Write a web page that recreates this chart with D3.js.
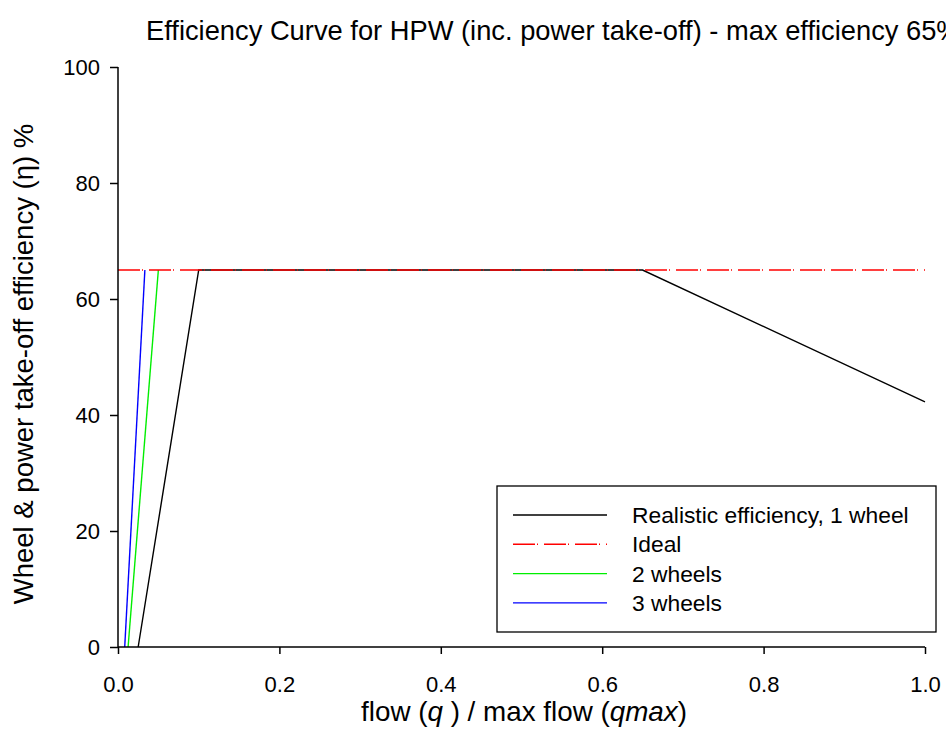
<!DOCTYPE html>
<html>
<head>
<meta charset="utf-8">
<script src="https://cdn.jsdelivr.net/npm/d3@7"></script>
<style>
  html, body { margin: 0; padding: 0; background: #fff; overflow: hidden; }
  svg { display: block; font-family: Arial, "Liberation Sans", sans-serif; }
</style>
</head>
<body>
<svg id="chart" width="946" height="745"></svg>
<script>
// Flow ratio q/qmax against wheel + power take-off efficiency (%)
const oneWheelQ   = [0.025, 0.1, 0.65, 1.0];
const oneWheelEff = [0, 65, 65, 42.25];
const idealQ      = [0, 1.0];
const idealEff    = [65, 65];
const twoWheelQ   = [0.0125, 0.05];
const twoWheelEff = [0, 65];
const threeWheelQ   = [0.00833, 0.0333];
const threeWheelEff = [0, 65];

const xTicks = [0, 0.2, 0.4, 0.6, 0.8, 1.0];
const yTicks = [0, 20, 40, 60, 80, 100];

const seriesNames = ["Realistic efficiency, 1 wheel", "Ideal", "2 wheels", "3 wheels"];

const svg = d3.select("#chart");
const x = d3.scaleLinear().domain([0, 1]).range([118, 925]);
const y = d3.scaleLinear().domain([0, 100]).range([647, 67]);

const series = [
  { name: seriesNames[0], q: oneWheelQ, e: oneWheelEff, color: "#000000", dash: null },
  { name: seriesNames[1], q: idealQ, e: idealEff, color: "#ff0000", dash: "22,2,1,6" },
  { name: seriesNames[2], q: twoWheelQ, e: twoWheelEff, color: "#00ee00", dash: null },
  { name: seriesNames[3], q: threeWheelQ, e: threeWheelEff, color: "#0000ff", dash: null }
];

const line = d3.line().x(d => x(d[0])).y(d => y(d[1]));

// data lines (ideal drawn last so its dashes sit over the 1-wheel plateau)
const drawOrder = [series[0], series[2], series[3], series[1]];
drawOrder.forEach(s => {
  svg.append("path")
    .datum(s.q.map((v, i) => [v, s.e[i]]))
    .attr("d", line)
    .attr("fill", "none")
    .attr("stroke", s.color)
    .attr("stroke-width", 1.4)
    .attr("stroke-dasharray", s.dash);
});

// axes
const xAxis = svg.append("g")
  .attr("transform", "translate(0,647)")
  .call(d3.axisBottom(x).tickValues(xTicks).tickFormat(d3.format(".1f")).tickSize(7).tickPadding(22));
const yAxis = svg.append("g")
  .attr("transform", "translate(118,0)")
  .call(d3.axisLeft(y).tickValues(yTicks).tickFormat(d3.format("d")).tickSize(8).tickPadding(10));

[xAxis, yAxis].forEach(g => {
  g.select(".domain").attr("stroke", "#000").attr("stroke-width", 1.5);
  g.selectAll(".tick line").attr("stroke", "#000").attr("stroke-width", 1.5);
  g.selectAll(".tick text").attr("fill", "#000").attr("font-size", 22)
    .attr("font-family", "Arial, 'Liberation Sans', sans-serif");
});
xAxis.select(".domain").attr("d", "M118,0H925");
yAxis.select(".domain").attr("d", "M0,647V67");

// title (runs past the right edge)
svg.append("text")
  .attr("x", 146).attr("y", 40)
  .attr("font-size", 27.3)
  .attr("fill", "#000")
  .text("Efficiency Curve for HPW (inc. power take-off) - max efficiency 65%");

// x-axis label
const xl = svg.append("text")
  .attr("x", 524).attr("y", 721)
  .attr("text-anchor", "middle")
  .attr("font-size", 27.8)
  .attr("fill", "#000");
xl.append("tspan").text("flow (");
xl.append("tspan").attr("font-style", "italic").text("q");
xl.append("tspan").text(" ) / max flow (");
xl.append("tspan").attr("font-style", "italic").text("qmax");
xl.append("tspan").text(")");

// y-axis label
svg.append("text")
  .attr("transform", "translate(33,364) rotate(-90)")
  .attr("text-anchor", "middle")
  .attr("font-size", 27.5)
  .attr("fill", "#000")
  .text("Wheel & power take-off efficiency (\u03b7) %");

// legend
const legend = svg.append("g");
legend.append("rect")
  .attr("x", 497).attr("y", 486)
  .attr("width", 439).attr("height", 146)
  .attr("fill", "#fff").attr("stroke", "#000").attr("stroke-width", 1.3);

series.forEach((s, i) => {
  const ry = 515 + i * 29.3;
  legend.append("line")
    .attr("x1", 513).attr("x2", 607)
    .attr("y1", ry).attr("y2", ry)
    .attr("stroke", s.color).attr("stroke-width", 1.4)
    .attr("stroke-dasharray", s.dash);
  legend.append("text")
    .attr("x", 632).attr("y", ry + 8)
    .attr("font-size", 22.8)
    .attr("fill", "#000")
    .text(s.name);
});
</script>
</body>
</html>
